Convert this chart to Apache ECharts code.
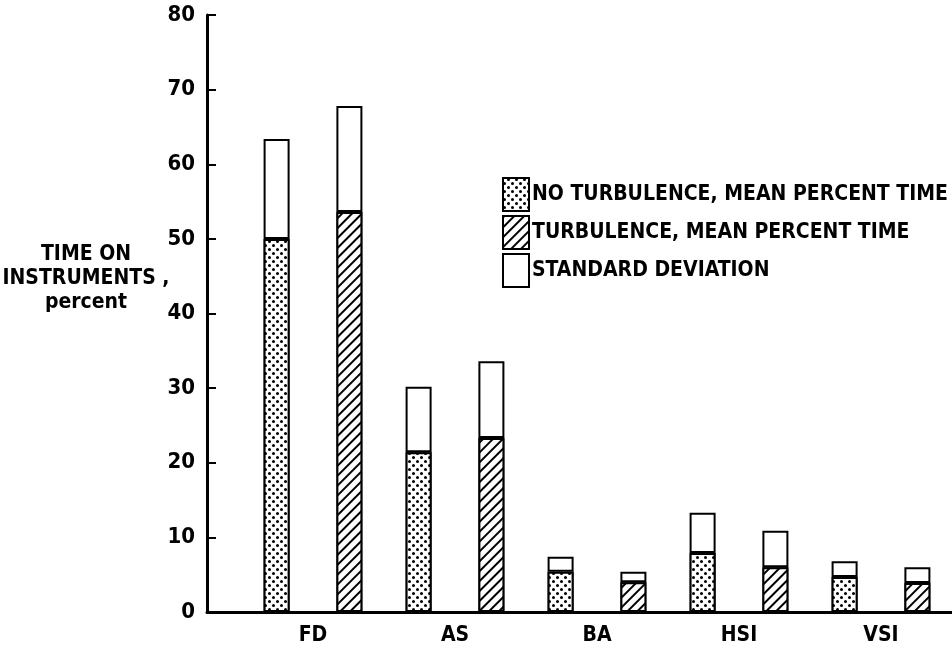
<!DOCTYPE html>
<html>
<head>
<meta charset="utf-8">
<script src="https://cdn.jsdelivr.net/npm/echarts@6/dist/echarts.min.js"></script>
<style>
  html, body { margin: 0; padding: 0; background: #fff; }
  #chart { width: 952px; height: 650px; }
</style>
</head>
<body>
<div id="chart"></div>
<script>
const categories = ['FD', 'AS', 'BA', 'HSI', 'VSI']
const noTurbMean = [50.0, 21.4, 5.4, 7.9, 4.7]
const noTurbStd = [13.4, 8.8, 2.0, 5.4, 2.1]
const turbMean = [53.6, 23.3, 4.0, 6.0, 3.9]
const turbStd = [14.2, 10.3, 1.4, 4.9, 2.1]
const yTicks = [0, 10, 20, 30, 40, 50, 60, 70, 80]

const font = '"DejaVu Sans Condensed", "DejaVu Sans", sans-serif'

// dotted weave for "no turbulence", diagonal hatch for "turbulence"
const dotDecal = {
    symbol: 'circle',
    symbolSize: 1,
    color: '#000',
    backgroundColor: '#fff',
    dashArrayX: [[3, 5], [0, 4, 3, 1]],
    dashArrayY: [3, 1],
    rotation: 0
}
const hatchDecal = {
    symbol: 'rect',
    symbolSize: 1,
    color: '#000',
    backgroundColor: '#fff',
    dashArrayX: [1, 0],
    dashArrayY: [2, 5],
    rotation: -Math.PI / 4
}

const barBase = {
    type: 'bar',
    barWidth: 26,
    barGap: '180%',
    xAxisIndex: 0,
    yAxisIndex: 0
}

const chart = echarts.init(document.getElementById('chart'))
chart.setOption({
    animation: false,
    backgroundColor: '#fff',
    title: {
        text: 'TIME ON\nINSTRUMENTS ,\npercent',
        left: 81,
        top: 238,
        textAlign: 'center',
        textStyle: {
            fontFamily: font,
            fontWeight: 'bold',
            fontSize: 21,
            lineHeight: 24,
            color: '#000'
        }
    },
    legend: {
        orient: 'vertical',
        left: 497,
        top: 172,
        icon: 'rect',
        itemWidth: 26,
        itemHeight: 33,
        itemGap: 3,
        data: ['NO TURBULENCE, MEAN PERCENT TIME', 'TURBULENCE, MEAN PERCENT TIME', 'STANDARD DEVIATION'],
        textStyle: {
            fontFamily: font,
            fontWeight: 'bold',
            fontSize: 21,
            color: '#000',
            padding: [0, 0, 0, -2]
        }
    },
    grid: [
        { left: 242, right: -25, top: 15, bottom: 38 },
        { left: 207, right: 0, top: 15, bottom: 38 }
    ],
    xAxis: [
        {
            type: 'category',
            data: categories,
            gridIndex: 0,
            axisTick: { show: false },
            axisLine: { lineStyle: { color: '#000', width: 3 } },
            axisLabel: {
                color: '#000',
                fontFamily: font,
                fontWeight: 'bold',
                fontSize: 21,
                margin: 13
            }
        },
        {
            type: 'value',
            gridIndex: 1,
            min: 0,
            max: 1,
            axisLine: { show: true, lineStyle: { color: '#000', width: 3 } },
            axisTick: { show: false },
            axisLabel: { show: false },
            splitLine: { show: false }
        }
    ],
    yAxis: [
        {
            type: 'value',
            gridIndex: 0,
            min: yTicks[0],
            max: yTicks[yTicks.length - 1],
            interval: 10,
            offset: 35,
            axisLine: { show: true, lineStyle: { color: '#000', width: 3 } },
            axisTick: { show: true, inside: true, length: 9, lineStyle: { color: '#000', width: 2 } },
            splitLine: { show: false },
            axisLabel: {
                color: '#000',
                fontFamily: font,
                fontWeight: 'bold',
                fontSize: 22,
                margin: 12
            }
        },
        { type: 'value', gridIndex: 1, show: false, min: 0, max: 1 }
    ],
    series: [
        {
            ...barBase,
            name: 'NO TURBULENCE, MEAN PERCENT TIME',
            stack: 'noTurb',
            data: noTurbMean,
            itemStyle: { color: '#fff', borderColor: '#000', borderWidth: 2, decal: dotDecal }
        },
        {
            ...barBase,
            name: 'TURBULENCE, MEAN PERCENT TIME',
            stack: 'turb',
            data: turbMean,
            itemStyle: { color: '#fff', borderColor: '#000', borderWidth: 2, decal: hatchDecal }
        },
        {
            ...barBase,
            name: 'STANDARD DEVIATION',
            stack: 'noTurb',
            data: noTurbStd,
            itemStyle: { color: '#fff', borderColor: '#000', borderWidth: 2 }
        },
        {
            ...barBase,
            name: 'STANDARD DEVIATION',
            stack: 'turb',
            data: turbStd,
            itemStyle: { color: '#fff', borderColor: '#000', borderWidth: 2 }
        }
    ]
})
</script>
</body>
</html>
